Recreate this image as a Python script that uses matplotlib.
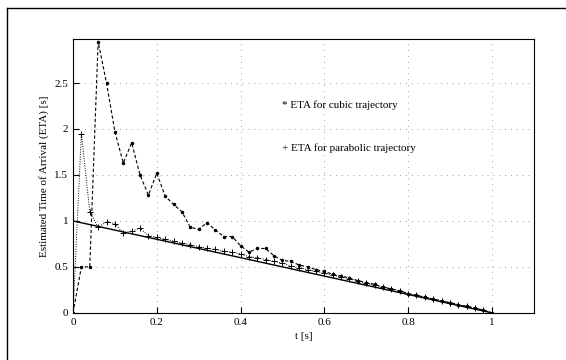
import matplotlib
matplotlib.use("Agg")
import matplotlib.pyplot as plt
from matplotlib.lines import Line2D

plt.rcParams['font.family'] = ['Liberation Serif', 'DejaVu Serif']

# time samples (s)
t = [0.00, 0.02, 0.04, 0.06, 0.08, 0.10, 0.12, 0.14, 0.16, 0.18,
     0.20, 0.22, 0.24, 0.26, 0.28, 0.30, 0.32, 0.34, 0.36, 0.38,
     0.40, 0.42, 0.44, 0.46, 0.48, 0.50, 0.52, 0.54, 0.56, 0.58,
     0.60, 0.62, 0.64, 0.66, 0.68, 0.70, 0.72, 0.74, 0.76, 0.78,
     0.80, 0.82, 0.84, 0.86, 0.88, 0.90, 0.92, 0.94, 0.96, 0.98, 1.00]

# ETA, cubic trajectory (*)
eta_cubic = [0.00, 0.50, 0.50, 2.95, 2.50, 1.97, 1.63, 1.85, 1.50, 1.28,
             1.52, 1.27, 1.18, 1.10, 0.93, 0.91, 0.98, 0.90, 0.83, 0.83,
             0.73, 0.66, 0.70, 0.70, 0.62, 0.57, 0.56, 0.52, 0.50, 0.47,
             0.45, 0.42, 0.40, 0.38, 0.35, 0.33, 0.31, 0.28, 0.26, 0.24,
             0.21, 0.19, 0.17, 0.15, 0.13, 0.11, 0.09, 0.07, 0.05, 0.03, 0.00]

# ETA, parabolic trajectory (+)
eta_parab = [0.00, 1.95, 1.10, 0.93, 0.99, 0.97, 0.87, 0.89, 0.92, 0.84,
             0.82, 0.80, 0.78, 0.76, 0.74, 0.72, 0.70, 0.69, 0.67, 0.66,
             0.64, 0.61, 0.60, 0.58, 0.56, 0.54, 0.51, 0.49, 0.47, 0.45,
             0.43, 0.41, 0.39, 0.37, 0.35, 0.32, 0.30, 0.28, 0.26, 0.24,
             0.21, 0.19, 0.17, 0.15, 0.13, 0.11, 0.09, 0.07, 0.05, 0.03, 0.00]

# true remaining time
t_true = [0.0, 1.0]
eta_true = [1.0, 0.0]

xticks = [0, 0.2, 0.4, 0.6, 0.8, 1]
xtick_labels = ["0", "0.2", "0.4", "0.6", "0.8", "1"]
yticks = [0, 0.5, 1, 1.5, 2, 2.5]
ytick_labels = ["0", "0.5", "1", "1.5", "2", "2.5"]

fig = plt.figure(figsize=(5.66, 3.6), dpi=100)
ax = fig.add_axes([0.129, 0.131, 0.814, 0.761])

ax.plot(t_true, eta_true, color='black', lw=1.0)
ax.plot(t, eta_cubic, color='black', lw=0.8, ls=(0, (3, 2)),
        marker='.', markersize=3)
ax.plot(t, eta_parab, color='black', lw=0.7, ls=(0, (1, 1.5)),
        marker='+', markersize=4, markeredgewidth=0.7)

ax.set_xlim(0, 1.1)
ax.set_ylim(0, 2.98)
ax.set_xticks(xticks)
ax.set_xticklabels(xtick_labels)
ax.set_yticks(yticks)
ax.set_yticklabels(ytick_labels)
ax.tick_params(direction='in', labelsize=8, length=4, width=0.8)
ax.grid(True, ls=(0, (1, 6)), color='gray', lw=0.6)
for s in ax.spines.values():
    s.set_linewidth(0.8)

ax.set_xlabel("t [s]", fontsize=8)
ax.set_ylabel("Estimated Time of Arrival (ETA) [s]", fontsize=8)

ax.text(0.5, 2.26, "* ETA for cubic trajectory", fontsize=8, va='center')
ax.text(0.5, 1.79, "+ ETA for parabolic trajectory", fontsize=8, va='center')

# scanned page frame
fig.add_artist(Line2D([0.012, 0.012], [0.0, 0.978], color='black', lw=1.0,
                      transform=fig.transFigure))
fig.add_artist(Line2D([0.012, 1.0], [0.978, 0.978], color='black', lw=1.0,
                      transform=fig.transFigure))

fig.savefig("out.png", dpi=100)
